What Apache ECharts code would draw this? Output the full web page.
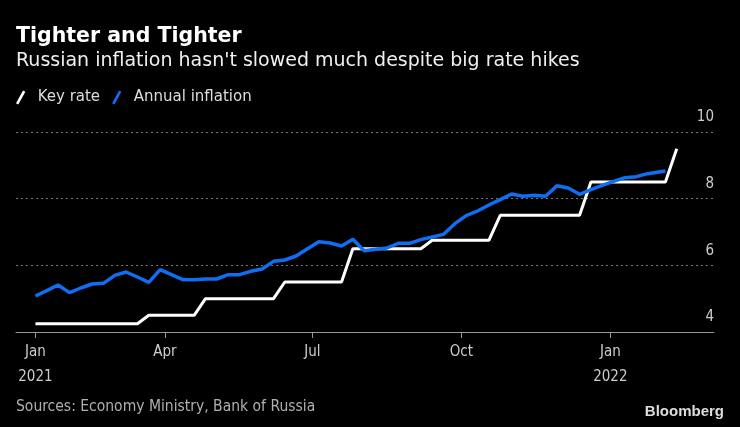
<!DOCTYPE html>
<html>
<head>
<meta charset="utf-8">
<script src="https://cdn.jsdelivr.net/npm/echarts@6/dist/echarts.min.js"></script>
<style>
html,body{margin:0;padding:0;background:#000;}
#chart{width:740px;height:427px;}
</style>
</head>
<body>
<div id="chart"></div>
<script>
// ---- data ----
const dates = [
  '2021-01-11','2021-01-18','2021-01-25','2021-02-01','2021-02-08','2021-02-15','2021-02-22','2021-03-01','2021-03-08','2021-03-15',
  '2021-03-22','2021-03-29','2021-04-05','2021-04-12','2021-04-19','2021-04-26','2021-05-03','2021-05-10','2021-05-17','2021-05-24',
  '2021-05-31','2021-06-07','2021-06-14','2021-06-21','2021-06-28','2021-07-05','2021-07-12','2021-07-19','2021-07-26','2021-08-02',
  '2021-08-09','2021-08-16','2021-08-23','2021-08-30','2021-09-06','2021-09-13','2021-09-20','2021-09-27','2021-10-04','2021-10-11',
  '2021-10-18','2021-10-25','2021-11-01','2021-11-08','2021-11-15','2021-11-22','2021-11-29','2021-12-06','2021-12-13','2021-12-20',
  '2021-12-27','2022-01-03','2022-01-10','2022-01-17','2022-01-24','2022-02-04','2022-02-11'
];
const keyRate = [
  4.25,4.25,4.25,4.25,4.25,4.25,4.25,4.25,4.25,4.25,
  4.5,4.5,4.5,4.5,4.5,5.0,5.0,5.0,5.0,5.0,
  5.0,5.0,5.5,5.5,5.5,5.5,5.5,5.5,6.5,6.5,
  6.5,6.5,6.5,6.5,6.5,6.75,6.75,6.75,6.75,6.75,
  6.75,7.5,7.5,7.5,7.5,7.5,7.5,7.5,7.5,8.5,
  8.5,8.5,8.5,8.5,8.5,8.5,9.5
];
const inflation = [
  5.08,5.24,5.41,5.18,5.32,5.44,5.46,5.70,5.80,5.65,
  5.49,5.87,5.72,5.57,5.57,5.59,5.59,5.72,5.72,5.82,
  5.89,6.12,6.16,6.28,6.50,6.71,6.67,6.58,6.78,6.44,
  6.48,6.52,6.66,6.66,6.77,6.85,6.93,7.25,7.49,7.63,
  7.81,7.97,8.14,8.07,8.10,8.07,8.39,8.32,8.13,8.27,
  8.40,8.52,8.63,8.66,8.75,8.83
];
const tickDates = ['2021-01-11','2021-04-01','2021-07-01','2021-10-01','2022-01-01'];
const tickLabels = ['Jan\n2021','Apr','Jul','Oct','Jan\n2022'];
const yTicks = [4, 6, 8, 10];
const xRange = ['2020-12-30','2022-03-06'];

// ---- build ----
function ts(s){ return Date.UTC(+s.slice(0,4), +s.slice(5,7)-1, +s.slice(8,10)); }
const tickTs = tickDates.map(ts);
const keyData = dates.map((d,i)=>[ts(d), keyRate[i]]);
const infData = inflation.map((v,i)=>[ts(dates[i]), v]);

const chart = echarts.init(document.getElementById('chart'), null, {renderer:'canvas'});
const slash = 'path://M0,11 L2,12 L8,1 L6,0 Z';
const condensed = "'DejaVu Sans Condensed','Liberation Sans Narrow',sans-serif";
chart.setOption({
  backgroundColor:'#000',
  animation:false,
  title:[
    {text:'Tighter and Tighter', left:16, top:26, padding:0,
     textStyle:{color:'#fff', fontFamily:'DejaVu Sans', fontWeight:'bold', fontSize:20.5}},
    {text:"Russian inflation hasn't slowed much despite big rate hikes", left:16, top:52, padding:0,
     textStyle:{color:'#f0f0f0', fontFamily:'DejaVu Sans', fontWeight:'normal', fontSize:19}},
    {text:'Sources: Economy Ministry, Bank of Russia', left:16, top:399, padding:0,
     textStyle:{color:'#b0b0b0', fontFamily:condensed, fontWeight:'normal', fontSize:15.5}},
    {text:'Bloomberg', right:16, top:404, padding:0,
     textStyle:{color:'#ddd', fontFamily:'Liberation Sans', fontWeight:'bold', fontSize:15}}
  ],
  legend:{
    left:16, top:90, padding:0, itemWidth:10, itemHeight:14, itemGap:12,
    textStyle:{color:'#ddd', fontFamily:'DejaVu Sans', fontSize:15, padding:[0,0,0,7]},
    data:[{name:'Key rate', icon:slash},{name:'Annual inflation', icon:slash}]
  },
  grid:{left:16, right:26, top:132, bottom:95, containLabel:false},
  xAxis:{
    type:'value', min:ts(xRange[0]), max:ts(xRange[1]),
    axisLine:{show:true, lineStyle:{color:'#999', width:1}},
    axisTick:{show:true, customValues:tickTs, length:6, lineStyle:{color:'#999'}},
    axisLabel:{customValues:tickTs, color:'#ccc', fontSize:15, lineHeight:25, margin:8,
      fontFamily:condensed,
      formatter:function(v){ const i = tickTs.indexOf(v); return i>=0 ? tickLabels[i] : ''; }},
    splitLine:{show:false}
  },
  yAxis:{
    type:'value', position:'right', min:4, max:10, interval:2,
    axisLine:{show:false}, axisTick:{show:false},
    axisLabel:{inside:true, margin:0, verticalAlign:'bottom', padding:[0,0,7,0],
      color:'#ccc', fontSize:15, fontFamily:condensed,
      formatter:function(v){ return yTicks.indexOf(v)>=0 ? String(v) : ''; }},
    splitLine:{show:true, lineStyle:{color:'#777', type:[2,3], width:1}}
  },
  series:[
    {name:'Key rate', type:'line', data:keyData, showSymbol:false, color:'#ffffff',
     lineStyle:{width:3, color:'#ffffff'}, z:2},
    {name:'Annual inflation', type:'line', data:infData, showSymbol:false, color:'#0f6ef2',
     lineStyle:{width:3.5, color:'#0f6ef2'}, z:3}
  ]
});
</script>
</body>
</html>
